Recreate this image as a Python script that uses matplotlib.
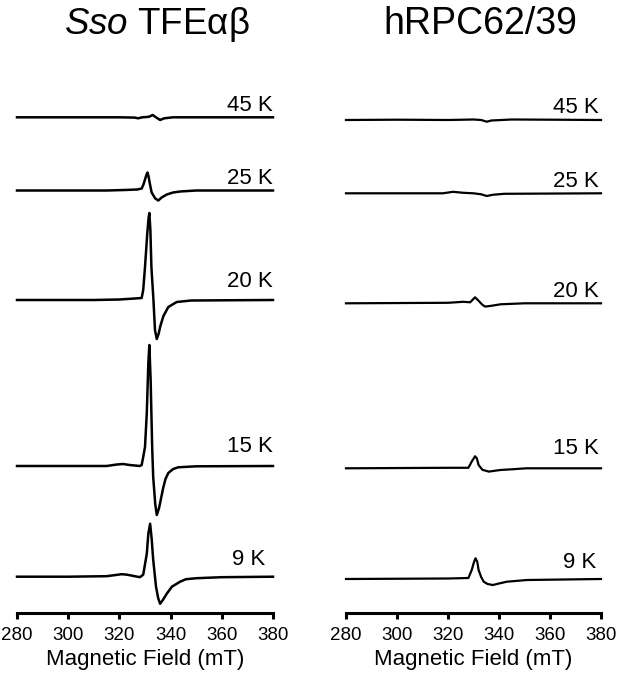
import matplotlib
matplotlib.use('Agg')
import matplotlib.pyplot as plt

plt.rcParams['font.family'] = ['Liberation Sans', 'DejaVu Sans']
plt.rcParams['mathtext.fontset'] = 'custom'
plt.rcParams['mathtext.rm'] = 'Liberation Sans'
plt.rcParams['mathtext.it'] = 'Liberation Sans:italic'

# EPR spectra, field in mT, signal in arbitrary units
temps = ['45 K', '25 K', '20 K', '15 K', '9 K']

# Sso TFEab
sso_45_field = [280, 320, 326, 327.3, 329, 331.5, 333, 334.3, 335.9, 337.5, 341, 380]
sso_45_sig = [0, 0, -0.3, -1, 0, 0.5, 2.3, 0, -2.7, -1, 0, 0]

sso_25_field = [280, 315, 322, 327, 328.7, 329.4, 330, 330.6, 331, 331.4, 331.8, 332.6,
                334, 335.2, 336.5, 338.5, 341, 343.7, 350, 380]
sso_25_sig = [0, 0, 0.5, 1, 2, 6, 11, 16, 18, 14, 8, -2,
              -8, -10, -7, -4, -2, -1, 0, 0]

sso_20_field = [280, 310, 320, 326, 328.7, 329.3, 330, 330.9, 331.4, 331.7, 332.1, 332.5,
                333.3, 333.9, 334.6, 335.3, 336, 337.2, 339.1, 342.4, 348, 380]
sso_20_sig = [0, 0, 0.5, 1.5, 2, 10, 33, 67, 82, 87, 70, 33,
              0, -30, -39, -34, -26, -16, -7, -2, -0.5, 0]

sso_15_field = [280, 315, 319, 321.4, 324, 328, 328.7, 329.3, 330, 330.7, 331.3, 331.7,
                332.2, 332.8, 333.2, 334, 334.6, 335.5, 336.3, 337.1, 338, 339.1,
                341, 343, 350, 380]
sso_15_sig = [0, 0, 1.5, 2, 1, 0, 1, 9, 19, 53, 103, 121,
              86, 19, -11, -38, -49, -42, -32, -22, -13, -7,
              -3, -1.3, -0.3, 0]

sso_9_field = [280, 300, 315, 318, 320.9, 323, 326, 328, 329.3, 330.7, 331.3, 332,
               332.6, 333.2, 334.3, 335.2, 335.9, 336.8, 338.5, 340.5, 343.7, 346,
               350.2, 360, 380]
sso_9_sig = [0, 0, 0.5, 1.5, 2.5, 2, 0.5, -0.5, 2, 23, 43, 53,
             38, 17, -10, -22, -27, -24, -17, -10, -5, -2.5,
             -1.5, -0.5, 0]

# hRPC62/39
hrpc_45_field = [280, 300, 320, 330, 333, 335.2, 337, 345, 360, 380]
hrpc_45_sig = [0, 0.3, 0, 0.5, 0, -1.7, -0.5, 0.5, 0.3, 0]

hrpc_25_field = [280, 318, 322, 326, 330, 333, 335.2, 337.5, 342, 380]
hrpc_25_sig = [0, 0, 1.5, 0.5, 0, -1, -2.7, -1.5, -0.5, 0]

hrpc_20_field = [280, 320, 326, 328.7, 330.6, 332, 333.5, 334.6, 337, 340.6, 350, 380]
hrpc_20_sig = [0, 0.5, 1.5, 1, 6, 2.5, -1.5, -3.3, -2.5, -1, 0, 0]

hrpc_15_field = [280, 320, 328, 329.3, 330.6, 331.3, 332, 333.5, 336, 340.5, 345, 350.7, 380]
hrpc_15_sig = [0, 0.5, 0.5, 6.7, 12, 10, 3.3, -1.5, -3.3, -1.7, -1, 0, 0]

hrpc_9_field = [280, 320, 328, 329.3, 330.2, 330.8, 331.5, 332, 333, 334, 335.5, 337.6,
                340, 343.1, 351, 380]
hrpc_9_sig = [0, 0.5, 1, 9, 17, 20.7, 17, 9, 2, -2.7, -5, -6,
              -4.5, -2.7, -1, 0]

# vertical stacking offsets of each trace
sso_offsets = [495.7, 422.5, 313, 147, 36.3]
hrpc_offsets = [493, 419.7, 309.7, 144.7, 34]

sso_traces = [(sso_45_field, sso_45_sig), (sso_25_field, sso_25_sig), (sso_20_field, sso_20_sig),
              (sso_15_field, sso_15_sig), (sso_9_field, sso_9_sig)]
hrpc_traces = [(hrpc_45_field, hrpc_45_sig), (hrpc_25_field, hrpc_25_sig),
               (hrpc_20_field, hrpc_20_sig), (hrpc_15_field, hrpc_15_sig),
               (hrpc_9_field, hrpc_9_sig)]

# label positions (x in mT, y baseline in data units)
sso_label_x = [380, 380, 380, 380, 377]
sso_label_y = [502, 429, 325.7, 161.3, 48]
hrpc_label_x = [379, 379, 379, 379, 378]
hrpc_label_y = [500.3, 426.3, 316.3, 159, 44.7]

fig = plt.figure(figsize=(6.17, 6.76), dpi=100)
ax1 = fig.add_axes([17/617, 1 - 613/676, 256/617, 523/676])
ax2 = fig.add_axes([346/617, 1 - 613/676, 255/617, 523/676])

panels = [(ax1, sso_traces, sso_offsets, sso_label_x, sso_label_y, 1.8),
          (ax2, hrpc_traces, hrpc_offsets, hrpc_label_x, hrpc_label_y, 1.6)]

for ax, traces, offsets, lx, ly, lw in panels:
    for (f, s), off, t, x, y in zip(traces, offsets, temps, lx, ly):
        ax.plot(f, [v + off for v in s], color='black', lw=lw, clip_on=False,
                solid_joinstyle='round')
        ax.text(x, y, t, ha='right', va='baseline', fontsize=16)
    ax.set_xlim(280, 380)
    ax.set_ylim(0, 523)
    ax.set_xticks([280, 300, 320, 340, 360, 380])
    ax.tick_params(axis='x', direction='out', length=4, width=2.2, labelsize=13.5, pad=6)
    ax.set_yticks([])
    for side in ['left', 'right', 'top']:
        ax.spines[side].set_visible(False)
    ax.spines['bottom'].set_linewidth(2.2)
    ax.set_xlabel('Magnetic Field (mT)', fontsize=16, labelpad=4)

fig.text(157/617, 1 - 34/676, r'$\it{Sso}$ TFEαβ', ha='center', va='baseline', fontsize=26.5)
fig.text(480/617, 1 - 34/676, 'hRPC62/39', ha='center', va='baseline', fontsize=27)

fig.savefig('out.png', dpi=100)
